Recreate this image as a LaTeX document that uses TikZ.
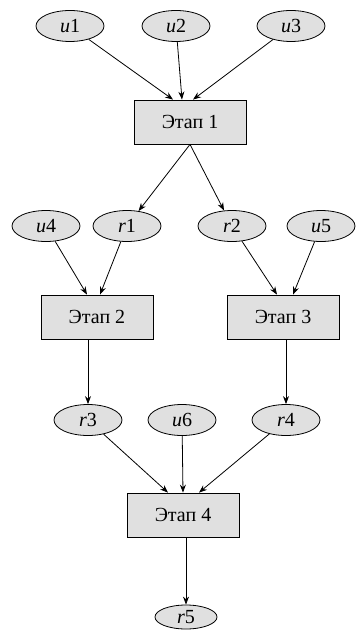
\documentclass[tikz,border=0pt]{standalone}
\usepackage{fontspec}
\setmainfont{Liberation Serif}
\usetikzlibrary{shapes.geometric,arrows.meta}

\tikzset{
  var/.style={ellipse, draw, fill=black!12, line width=0.8pt, minimum width=68pt, minimum height=31pt, inner sep=0pt, font=\fontsize{20}{22}\selectfont},
  stage/.style={rectangle, draw, fill=black!12, line width=0.8pt, minimum width=112pt, minimum height=44pt, font=\fontsize{20}{22}\selectfont},
  flow/.style={-{Stealth[length=8pt,width=6pt]}, line width=0.8pt}
}
\newcommand{\vname}[2]{{\itshape #1}#2}

\begin{document}
\begin{tikzpicture}[x=1pt,y=-1pt]
\useasboundingbox (0,0) rectangle (357,631);

% Входы
\node[var] (u1) at (70,26) {\vname{u}{1}};
\node[var] (u2) at (176,26) {\vname{u}{2}};
\node[var] (u3) at (291,26) {\vname{u}{3}};

% Этап 1
\node[stage] (e1) at (190,122) {Этап 1};
\draw[flow] (u1) -- ([xshift=-17pt]e1.north);
\draw[flow] (u2) -- ([xshift=-8pt]e1.north);
\draw[flow] (u3) -- ([xshift=3pt]e1.north);

% Второй ряд
\node[var] (u4) at (46,226) {\vname{u}{4}};
\node[var] (r1) at (127,226) {\vname{r}{1}};
\node[var] (r2) at (232,226) {\vname{r}{2}};
\node[var] (u5) at (321,226) {\vname{u}{5}};
\draw[flow] (e1.south) -- (r1);
\draw[flow] (e1.south) -- (r2);

% Этапы 2 и 3
\node[stage] (e2) at (97,317) {Этап 2};
\node[stage] (e3) at (283,317) {Этап 3};
\draw[flow] (u4) -- ([xshift=-10pt]e2.north);
\draw[flow] (r1) -- ([xshift=3pt]e2.north);
\draw[flow] (r2) -- ([xshift=-6pt]e3.north);
\draw[flow] (u5) -- ([xshift=10pt]e3.north);

% Третий ряд
\node[var] (r3) at (88,420) {\vname{r}{3}};
\node[var] (u6) at (182,420) {\vname{u}{6}};
\node[var] (r4) at (286,420) {\vname{r}{4}};
\draw[flow] (e2.south -| r3.north) -- (r3.north);
\draw[flow] (e3.south -| r4.north) -- (r4.north);

% Этап 4
\node[stage] (e4) at (183,515) {Этап 4};
\draw[flow] (r3) -- ([xshift=-15pt]e4.north);
\draw[flow] (u6) -- (e4.north);
\draw[flow] (r4) -- ([xshift=16pt]e4.north);

% Выход
\node[var, minimum width=62pt, minimum height=24pt] (r5) at (186,617) {\vname{r}{5}};
\draw[flow] (e4.south -| r5.north) -- (r5.north);

\end{tikzpicture}
\end{document}
